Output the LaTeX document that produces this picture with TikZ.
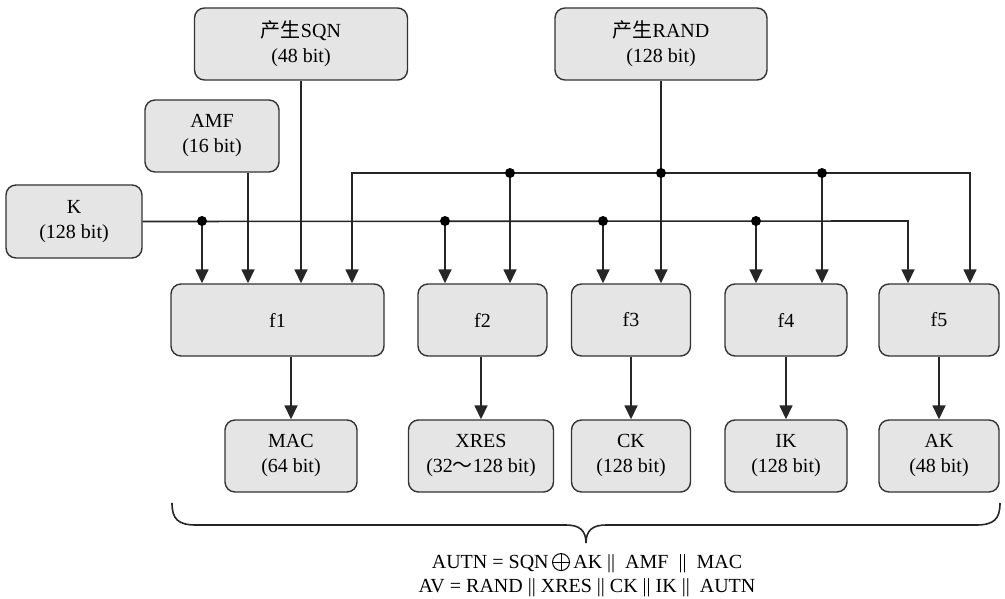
\documentclass[tikz,border=0pt]{standalone}
\usepackage{fontspec}
\setmainfont{Liberation Serif}
\newfontfamily\cjk{Noto Sans CJK SC}
\usetikzlibrary{arrows.meta}

% thin circled plus, sized to the capital letters
\newcommand{\xorsign}{\tikz[baseline=0pt, x=1pt, y=1pt, line width=1pt]{%
  \draw (0,6.5) circle (8.5pt);
  \draw (-8.5,6.5) -- (8.5,6.5) (0,-2) -- (0,15);}}

\tikzset{
  blk/.style={draw=black!80, line width=1.4pt, fill=black!10, rounded corners=10pt,
              align=center, inner sep=0pt, font=\fontsize{20}{25}\selectfont},
  wire/.style={line width=1.6pt, draw=black!85},
  arr/.style={wire, -{Triangle[length=14pt,width=13pt]}},
  dot/.style={circle, fill=black, inner sep=0pt, minimum size=10pt},
  formula/.style={font=\fontsize{20}{25}\selectfont, inner sep=0pt},
}

\begin{document}
\begin{tikzpicture}[x=1pt, y=-1pt]
\useasboundingbox (0,0) rectangle (1005,599);

% input blocks
\node[blk, minimum width=213pt, minimum height=72pt] (sqn)  at (301,44)   {{\cjk 产生}SQN\\(48 bit)};
\node[blk, minimum width=212pt, minimum height=72pt] (rand) at (661,44)   {{\cjk 产生}RAND\\(128 bit)};
\node[blk, minimum width=134pt, minimum height=72pt] (amf)  at (212,136)  {AMF\\(16 bit)};
\node[blk, minimum width=136pt, minimum height=73pt] (k)    at (74,221.5) {K\\(128 bit)};

% functions
\node[blk, minimum width=213pt, minimum height=72pt] (f1) at (277.5,320) {f1};
\node[blk, minimum width=129pt, minimum height=72pt] (f2) at (482.5,320) {f2};
\node[blk, minimum width=119pt, minimum height=72pt] (f3) at (631,320)   {f3};
\node[blk, minimum width=122pt, minimum height=72pt] (f4) at (786,320)   {f4};
\node[blk, minimum width=120pt, minimum height=72pt] (f5) at (939,320)   {f5};

% outputs
\node[blk, minimum width=132pt, minimum height=72pt] (mac)  at (291,456) {MAC\\(64 bit)};
\node[blk, minimum width=145pt, minimum height=72pt] (xres) at (481,456) {XRES\\(32{\cjk ～}128 bit)};
\node[blk, minimum width=119pt, minimum height=72pt] (ck)   at (631,456) {CK\\(128 bit)};
\node[blk, minimum width=122pt, minimum height=72pt] (ik)   at (786,456) {IK\\(128 bit)};
\node[blk, minimum width=120pt, minimum height=72pt] (ak)   at (939,456) {AK\\(48 bit)};

% K distribution bus
\coordinate (kd1) at (202,221);
\coordinate (kd2) at (445,221);
\coordinate (kd3) at (603,221);
\coordinate (kd4) at (756,221);
\coordinate (kend) at (908,221);
\draw[arr] (k.east) -- (kend) -- (kend |- f5.north);
\foreach \c/\f in {kd1/f1, kd2/f2, kd3/f3, kd4/f4} {
  \draw[arr] (\c) -- (\c |- \f.north);
  \node[dot] at (\c) {};
}

% RAND distribution bus
\coordinate (rj)  at (661,173);
\coordinate (rl)  at (352,173);
\coordinate (rd1) at (510,173);
\coordinate (rd3) at (822,173);
\coordinate (rr)  at (970,173);
\draw[wire] (rand.south) -- (rj);
\draw[arr] (rj) -- (rj |- f3.north);
\draw[arr] (rj) -- (rl) -- (rl |- f1.north);
\draw[arr] (rj) -- (rr) -- (rr |- f5.north);
\draw[arr] (rd1) -- (rd1 |- f2.north);
\draw[arr] (rd3) -- (rd3 |- f4.north);
\foreach \c in {rd1, rj, rd3} \node[dot] at (\c) {};

% SQN and AMF into f1
\draw[arr] (sqn.south) -- (sqn.south |- f1.north);
\draw[arr] ([xshift=36pt]amf.south) -- ([xshift=36pt]amf.south |- f1.north);

% function outputs
\foreach \f/\o in {f1/mac, f2/xres, f3/ck, f4/ik, f5/ak}
  \draw[arr] (\o.north |- \f.south) -- (\o.north);

% brace under the outputs
\coordinate (bl) at (172,503);
\coordinate (bt) at (586,543);
\coordinate (br) at (1000,503);
\draw[wire] (bl) .. controls (172,519) and (178,525) .. (196,525) -- (566,525)
            .. controls (579,525) and (586,530) .. (bt)
            .. controls (586,530) and (593,525) .. (606,525) -- (976,525)
            .. controls (994,525) and (1000,519) .. (br);

% resulting vectors
\node[formula] (autn) at (587,563) {AUTN = SQN\,\xorsign\,AK ||\ \ AMF\ \ ||\ \ MAC};
\node[formula] (av)   at (587,588) {AV = RAND || XRES || CK || IK ||\ \ AUTN};
\end{tikzpicture}
\end{document}
